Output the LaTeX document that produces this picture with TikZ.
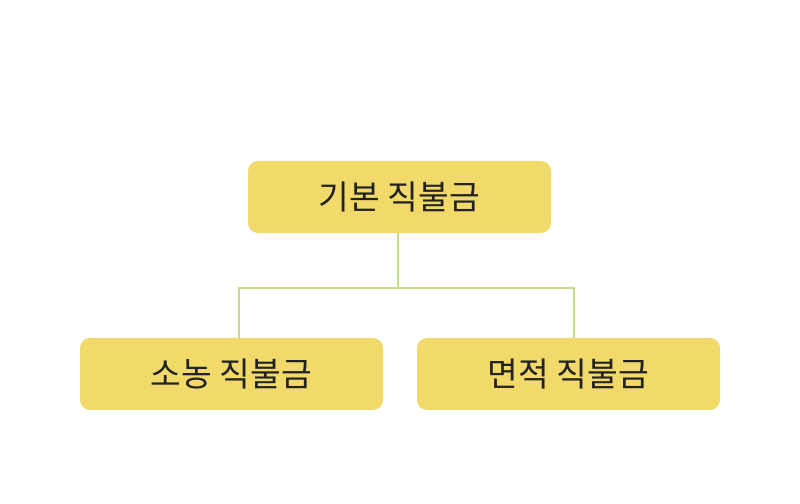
\documentclass[tikz,border=0pt]{standalone}
\usepackage{fontspec}
\setmainfont{Noto Sans CJK KR}
\usetikzlibrary{positioning}
\definecolor{boxyellow}{HTML}{F2DA6A}
\definecolor{linkgreen}{HTML}{C5DC8C}
\definecolor{textdark}{HTML}{222222}

\begin{document}
\begin{tikzpicture}[font=\fontsize{19}{22}\selectfont]
    \tikzstyle{pay} = [rectangle, rounded corners=0.2cm, minimum width=6.06cm, minimum height=1.44cm, fill=boxyellow, text=textdark, inner sep=0pt]
    \tikzstyle{link} = [draw=linkgreen, line width=1.6pt]

    \useasboundingbox (0,0) rectangle (16,10.08);

    \node (base) [pay] at (7.99,6.14) {기본 직불금};
    \node (small) [pay] at (4.63,2.6) {소농 직불금};
    \node (area) [pay] at (11.37,2.6) {면적 직불금};

    \coordinate (split) at (7.96,4.32);
    \draw [link] (base.south -| split) -- (split);
    \draw [link] (small.north -| 4.78,0) |- (split) -| (area.north -| 11.48,0);
\end{tikzpicture}
\end{document}
